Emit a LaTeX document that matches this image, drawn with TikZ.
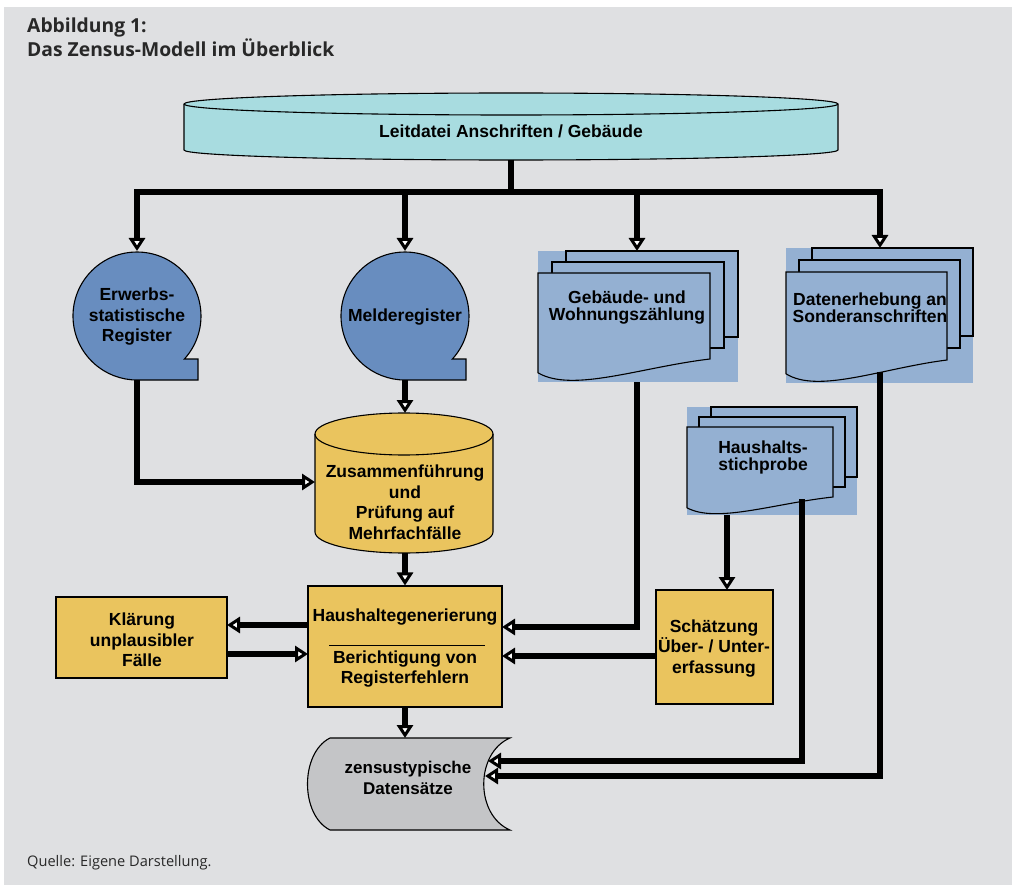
\documentclass[tikz,border=0pt]{standalone}
\usepackage{fontspec}
\setmainfont{Liberation Sans}
\newfontfamily\titlefont{Open Sans}
\usetikzlibrary{arrows.meta}
\definecolor{bggray}{RGB}{223,224,226}
\definecolor{leitcyan}{RGB}{168,220,224}
\definecolor{regblue}{RGB}{104,141,191}
\definecolor{docblue}{RGB}{148,176,210}
\definecolor{boxyellow}{RGB}{234,196,94}
\definecolor{zengray}{RGB}{196,197,199}
\definecolor{titlegray}{RGB}{40,40,40}
\tikzset{
  outl/.style={draw=black, line width=1.1pt},
  docshape/.style={outl, fill=docblue},
  ybox/.style={outl, fill=boxyellow, inner sep=0pt},
  lbl/.style={font=\bfseries\fontsize{17.5}{20.5}\selectfont, align=center, inner sep=0pt},
  lbltight/.style={font=\bfseries\fontsize{17.5}{17}\selectfont, align=center, inner sep=0pt},
  conn/.style={line width=6.5pt},
  arr/.style={conn, -{Triangle[length=13pt,width=16pt,fill=white,line width=3pt]}},
}
\newcommand\mydocstack[7]{% L T W H dx dy D
  \fill[docblue] ({#1},{#2-2*#6}) rectangle ({#1+#3+2*#5},{#2+#4+#7});
  \draw[docshape] ({#1+2*#5},{#2-2*#6}) rectangle ({#1+#3+2*#5},{#2+#4-2*#6});
  \draw[docshape] ({#1+#5},{#2-#6}) rectangle ({#1+#3+#5},{#2+#4-#6});
  \draw[docshape] ({#1},{#2}) -- ({#1+#3},{#2}) -- ({#1+#3},{#2+#4})
     .. controls ({#1+0.6*#3},{#2+#4+0.35*#7}) and ({#1+0.2*#3},{#2+#4+1.48*#7}) .. ({#1},{#2+#4+0.6*#7}) -- cycle;
}
\begin{document}
\begin{tikzpicture}[x=1pt,y=-1pt]
\useasboundingbox (0,0) rectangle (1012,885);
\fill[white] (0,0) rectangle (1012,885);
\fill[bggray] (4,7) rectangle (1012,885);

% title and source
\node[anchor=base west, inner sep=0pt, text=titlegray, font=\titlefont\bfseries\fontsize{19.3}{23}\selectfont] (t1) at (27,33) {Abbildung 1:};
\node[anchor=base west, inner sep=0pt, text=titlegray, font=\titlefont\bfseries\fontsize{19.3}{23}\selectfont] (t2) at (27,57) {Das Zensus-Modell im Überblick};
\node[anchor=base west, inner sep=0pt, text=titlegray, font=\titlefont\fontsize{14.6}{17}\selectfont] (src) at (27,866) {Quelle: Eigene Darstellung.};

% Leitdatei disk
\draw[outl, fill=leitcyan] (184,104) -- (184,150) arc[start angle=180, end angle=0, x radius=327, y radius=10]
   -- (838,104) arc[start angle=0, end angle=-180, x radius=327, y radius=11] -- cycle;
\draw[outl] (184,104) arc[start angle=180, end angle=0, x radius=327, y radius=11];
\node[lbl] (leit) at (511,131) {Leitdatei Anschriften / Gebäude};

% register circles
\draw[outl, fill=regblue] (137,380) -- (198,380) -- (198,359) -- (184.4,359)
   arc[start angle=42.2, end angle=-270, radius=64] -- cycle;
\node[lbl] (erw) at (137,317) {Erwerbs-\\statistische\\Register};
\draw[outl, fill=regblue] (405,380) -- (466,380) -- (466,359) -- (452.4,359)
   arc[start angle=42.2, end angle=-270, radius=64] -- cycle;
\node[lbl] (mel) at (405,317) {Melderegister};

% document stacks
\mydocstack{538}{273}{172}{86}{14}{11}{23}
\node[lbltight] (geb) at (627,308) {Gebäude- und\\Wohnungszählung};
\mydocstack{786}{272}{161}{88}{13}{12}{23}
\node[lbltight] (dat) at (870,308) {Datenerhebung an\\Sonderanschriften};
\mydocstack{687}{427}{146}{70}{12}{10}{18}
\node[lbltight] (hh) at (763,457) {Haushalts-\\stichprobe};

% Zusammenfuehrung cylinder
\draw[outl, fill=boxyellow] (315,434) -- (315,532) arc[start angle=180, end angle=0, x radius=89, y radius=21]
   -- (493,434) arc[start angle=0, end angle=-180, x radius=89, y radius=21] -- cycle;
\draw[outl] (315,434) arc[start angle=180, end angle=0, x radius=89, y radius=21];
\node[lbl] (zus) at (405,502) {Zusammenführung\\und\\Prüfung auf\\Mehrfachfälle};

% boxes
\node[ybox, minimum width=171, minimum height=81] (kl) at (141.5,637.5) {};
\node[lbl] (klt) at (142,640) {Klärung\\unplausibler\\Fälle};
\node[ybox, minimum width=194, minimum height=121] (hg) at (405,646.5) {};
\node[lbl] (hg1) at (405,617) {Haushaltegenerierung};
\draw[line width=0.7pt] (329,645) -- (485,645);
\node[lbl] (hg2) at (405,669) {Berichtigung von\\Registerfehlern};
\node[ybox, minimum width=117, minimum height=114] (sch) at (714.5,647) {};
\node[lbl] (scht) at (714,648.5) {Schätzung\\Über- / Unter-\\erfassung};

% zensustypische Datensaetze
\draw[outl, fill=zengray] (330,738) -- (510,738) .. controls (475,753) and (475,815) .. (510,830)
   -- (330,830) .. controls (300,815) and (300,753) .. (330,738) -- cycle;
\node[lbl, font=\bfseries\fontsize{17}{21}\selectfont] (zen) at (408,778) {zensustypische\\Datensätze};

% connector coordinates
\coordinate (leitS) at (511,160);
\coordinate (busM) at (511,192);
\coordinate (b1) at (137,192);
\coordinate (b2) at (405,192);
\coordinate (b3) at (637,192);
\coordinate (b4) at (880,192);
\coordinate (erwT) at (137,251);
\coordinate (melT) at (405,251);
\coordinate (gebT) at (637,251);
\coordinate (datT) at (880,248);
\coordinate (erwB) at (137,380);
\coordinate (zusW) at (315,482);
\coordinate (melB) at (405,380);
\coordinate (zusT) at (405,413);
\coordinate (zusB) at (405,553);
\coordinate (hgW1) at (308,625);
\coordinate (klE1) at (227,625);
\coordinate (klE2) at (227,654);
\coordinate (hgW2) at (308,654);
\coordinate (gebB) at (637,382);
\coordinate (hgE1) at (502,627);
\coordinate (hgE2) at (502,656);
\coordinate (schW) at (656,656);
\coordinate (hhB) at (727,515);
\coordinate (schN) at (727,590);
\coordinate (hhR) at (802,499);
\coordinate (datB) at (880,372);
\coordinate (zenE1) at (488,761);
\coordinate (zenE2) at (485,776);
\coordinate (zenT) at (405,738);

% connectors
\draw[conn] (leitS) -- (busM);
\draw[conn, line cap=rect] (b1) -- (b4);
\draw[arr] (b1) -- (erwT);
\draw[arr] (b2) -- (melT);
\draw[arr] (b3) -- (gebT);
\draw[arr] (b4) -- (datT);
\draw[arr, line join=miter] (erwB) |- (zusW);
\draw[arr] (melB) -- (zusT);
\draw[arr] (zusB) -- (hg.north);
\draw[arr] (hgW1) -- (klE1);
\draw[arr] (klE2) -- (hgW2);
\draw[arr, line join=miter] (gebB) |- (hgE1);
\draw[arr] (schW) -- (hgE2);
\draw[arr] (hhB) -- (schN);
\draw[arr, line join=miter] (hhR) |- (zenE1);
\draw[arr, line join=miter] (datB) |- (zenE2);
\draw[arr] (hg.south) -- (zenT);
\end{tikzpicture}
\end{document}
